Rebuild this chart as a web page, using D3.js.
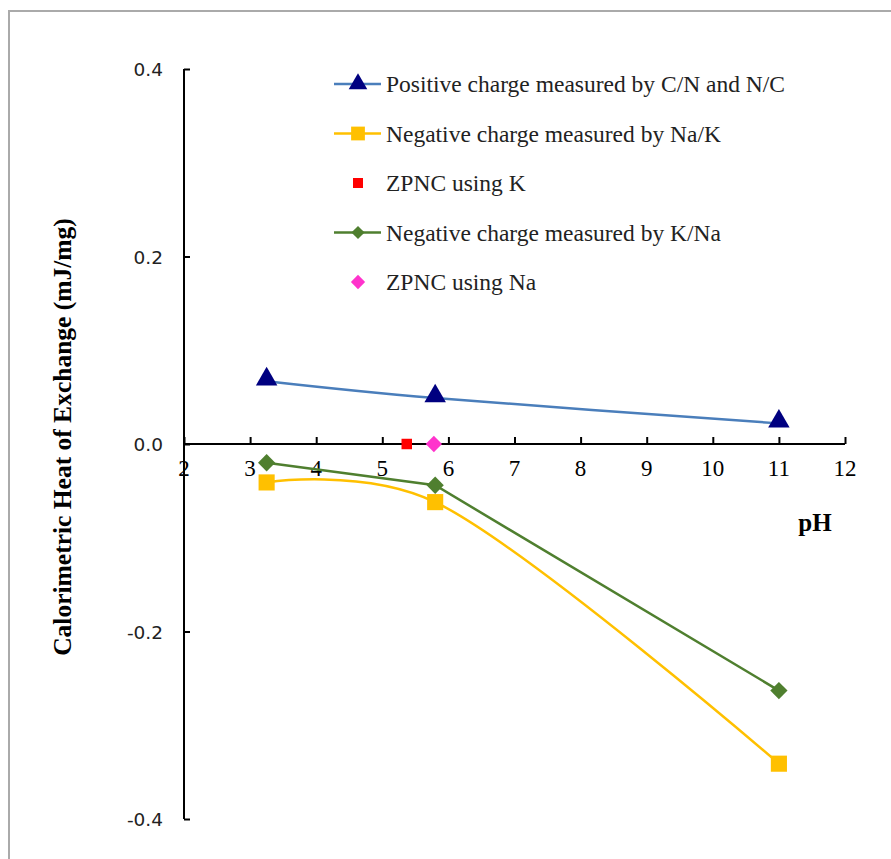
<!DOCTYPE html>
<html>
<head>
<meta charset="utf-8">
<script src="https://cdn.jsdelivr.net/npm/d3@7"></script>
<style>
  body { margin: 0; background: #fff; }
  svg text { fill: #000; }
</style>
</head>
<body>
<svg id="chart" width="891" height="859"></svg>
<script>
// values
var phPoints = [3.25, 5.8, 11]
var positiveCN = [0.067, 0.049, 0.022]
var negativeNaK = [-0.041, -0.062, -0.341]
var negativeKNa = [-0.020, -0.044, -0.263]
var zpncK = [{x: 5.37, y: 0}]
var zpncNa = [{x: 5.78, y: 0}]
var xTicks = [2, 3, 4, 5, 6, 7, 8, 9, 10, 11, 12]
var yTicks = [0.4, 0.2, 0.0, -0.2, -0.4]

var svg = d3.select('#chart')

// outer frame (only top/left edges show in the crop)
svg.append('path')
  .attr('d', 'M9,900 V11 H900')
  .attr('fill', 'none')
  .attr('stroke', '#aaa')
  .attr('stroke-width', 2)

var x = d3.scaleLinear().domain([2, 12]).range([184, 845])
var y = d3.scaleLinear().domain([-0.4, 0.4]).range([819, 69])

var serif = '"Liberation Serif", "Times New Roman", serif'

// y axis, ticks point inward
var yAxis = svg.append('g').attr('transform', 'translate(184,0)')
  .call(d3.axisRight(y).tickValues(yTicks).tickSize(6).tickFormat(''))
yAxis.select('.domain').attr('d', 'M0,' + y(0.4) + 'V' + y(-0.4)).attr('stroke-width', 2)
yAxis.selectAll('line').attr('stroke-width', 2)

svg.append('g').selectAll('text').data(yTicks).join('text')
  .attr('x', 163).attr('y', d => y(d) + 7)
  .attr('text-anchor', 'end')
  .style('font', '18.5px "DejaVu Sans", sans-serif')
  .style('fill', '#222')
  .text(d => d3.format('.1f')(d).replace('−', '-'))

// x axis at 0, ticks point up
var xAxis = svg.append('g').attr('transform', 'translate(0,' + y(0) + ')')
  .call(d3.axisTop(x).tickValues(xTicks).tickSize(7).tickFormat(''))
xAxis.select('.domain').attr('d', 'M' + x(2) + ',0H' + x(12)).attr('stroke-width', 2)
xAxis.selectAll('line').attr('stroke-width', 2)

svg.append('g').selectAll('text').data(xTicks).join('text')
  .attr('x', d => x(d)).attr('y', y(0) + 32)
  .attr('text-anchor', 'middle')
  .style('font', '23px ' + serif)
  .text(d => d)

svg.append('text')
  .attr('x', 815).attr('y', 531)
  .attr('text-anchor', 'middle')
  .style('font', 'bold 25px ' + serif)
  .text('pH')

svg.append('text')
  .attr('transform', 'translate(71,' + 437 + ') rotate(-90)')
  .attr('text-anchor', 'middle')
  .style('font', 'bold 25.5px ' + serif)
  .text('Calorimetric Heat of Exchange (mJ/mg)')

var smooth = d3.curveCatmullRom.alpha(0.25)
var series = [
  {name: 'Positive charge measured by C/N and N/C', values: positiveCN, line: '#4a7ebb', mark: '#000080', shape: d3.symbolTriangle, size: 200, curve: smooth},
  {name: 'Negative charge measured by Na/K', values: negativeNaK, line: '#ffc000', mark: '#ffc000', shape: d3.symbolSquare, size: 260, curve: smooth},
  {name: 'Negative charge measured by K/Na', values: negativeKNa, line: '#4f7f2f', mark: '#4f7f2f', shape: d3.symbolDiamond2, size: 190, curve: d3.curveLinear}
]

series.forEach(s => {
  var pts = phPoints.map((p, i) => ({x: p, y: s.values[i]}))
  var line = d3.line().x(d => x(d.x)).y(d => y(d.y)).curve(s.curve)
  svg.append('path').datum(pts)
    .attr('d', line)
    .attr('fill', 'none')
    .attr('stroke', s.line)
    .attr('stroke-width', 2.5)
  svg.append('g').selectAll('path').data(pts).join('path')
    .attr('transform', d => 'translate(' + x(d.x) + ',' + (y(d.y) + (s.shape == d3.symbolTriangle ? -2 : 0)) + ')')
    .attr('d', d3.symbol().type(s.shape).size(s.size))
    .attr('fill', s.mark)
})

svg.append('g').selectAll('path').data(zpncK).join('path')
  .attr('transform', d => 'translate(' + x(d.x) + ',' + y(d.y) + ')')
  .attr('d', d3.symbol().type(d3.symbolSquare).size(110))
  .attr('fill', '#ff0000')
svg.append('g').selectAll('path').data(zpncNa).join('path')
  .attr('transform', d => 'translate(' + x(d.x) + ',' + y(d.y) + ')')
  .attr('d', d3.symbol().type(d3.symbolDiamond2).size(170))
  .attr('fill', '#ff33cc')

// legend
var legend = [
  {name: series[0].name, line: series[0].line, mark: series[0].mark, shape: d3.symbolTriangle, size: 150},
  {name: series[1].name, line: series[1].line, mark: series[1].mark, shape: d3.symbolSquare, size: 190},
  {name: 'ZPNC using K', line: null, mark: '#ff0000', shape: d3.symbolSquare, size: 100},
  {name: series[2].name, line: series[2].line, mark: series[2].mark, shape: d3.symbolDiamond2, size: 110},
  {name: 'ZPNC using Na', line: null, mark: '#ff33cc', shape: d3.symbolDiamond2, size: 130}
]
var lg = svg.append('g').selectAll('g').data(legend).join('g')
  .attr('transform', (d, i) => 'translate(334,' + (84 + i * 49.5) + ')')
lg.filter(d => d.line).append('line')
  .attr('x1', 0).attr('x2', 47)
  .attr('stroke', d => d.line).attr('stroke-width', 2.5)
lg.append('path')
  .attr('transform', 'translate(24,0)')
  .attr('d', d => d3.symbol().type(d.shape).size(d.size)())
  .attr('fill', d => d.mark)
lg.append('text')
  .attr('x', 52).attr('y', 8)
  .style('font', '23.5px ' + serif)
  .style('fill', '#222')
  .text(d => d.name)
</script>
</body>
</html>
